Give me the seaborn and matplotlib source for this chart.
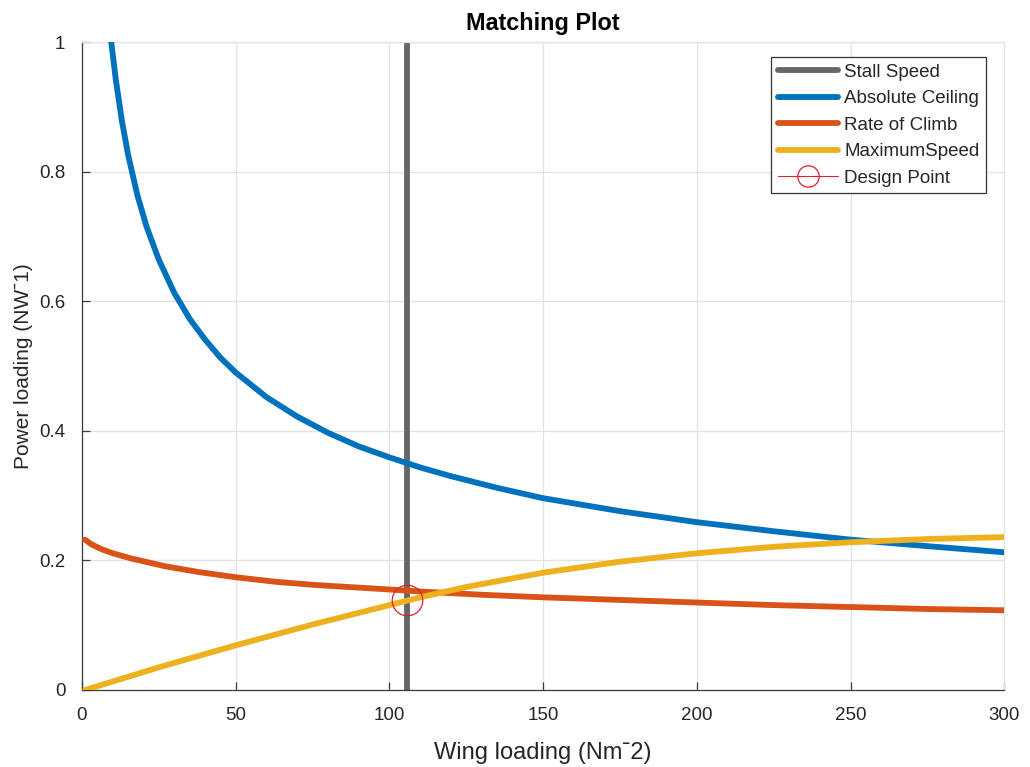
import numpy as np
import pandas as pd
import matplotlib
matplotlib.use("Agg")
import matplotlib.pyplot as plt
import seaborn as sns

# ---- data ----
stall_x = 105.6

ceiling_x = [9, 11, 13, 15, 18, 21, 25, 30, 35, 40, 45, 50, 60, 70, 80, 90, 100,
             110, 120, 135, 150, 175, 200, 225, 250, 275, 300]
ceiling_y = [1.02, 0.942, 0.878, 0.826, 0.764, 0.715, 0.664, 0.613, 0.573, 0.541,
             0.513, 0.490, 0.452, 0.422, 0.397, 0.376, 0.359, 0.3435, 0.330,
             0.312, 0.296, 0.276, 0.259, 0.245, 0.232, 0.222, 0.2125]

climb_x = [1, 3, 6.5, 10, 16, 27, 38, 50, 63, 76, 90, 102, 110, 130, 150, 175,
           200, 225, 250, 275, 300]
climb_y = [0.232, 0.225, 0.217, 0.211, 0.203, 0.191, 0.182, 0.174, 0.167, 0.162,
           0.158, 0.1545, 0.152, 0.147, 0.143, 0.139, 0.135, 0.131, 0.128, 0.125,
           0.123]

speed_x = [1, 25, 50, 75, 100, 110, 125, 150, 175, 200, 225, 250, 275, 300]
speed_y = [0.0, 0.035, 0.069, 0.101, 0.131, 0.143, 0.159, 0.181, 0.198, 0.211,
           0.221, 0.228, 0.233, 0.236]

design_x = [105.6]
design_y = [0.139]

x_ticks = [0, 50, 100, 150, 200, 250, 300]
y_ticks = [0, 0.2, 0.4, 0.6, 0.8, 1.0]
y_tick_labels = ["0", "0.2", "0.4", "0.6", "0.8", "1"]

# ---- styling ----
sns.set_theme(style="whitegrid")
plt.rcParams['font.family'] = ['Liberation Sans', 'DejaVu Sans']

C_STALL = "#666666"
C_BLUE = "#0072BD"
C_RED = "#D95319"
C_YEL = "#EDB120"
TXT = "#262626"

fig = plt.figure(figsize=(10.3, 7.67), dpi=100)
ax = fig.add_axes([0.0796, 0.1004, 0.8954, 0.8448])

df_c = pd.DataFrame({"x": ceiling_x, "y": ceiling_y})
df_r = pd.DataFrame({"x": climb_x, "y": climb_y})
df_s = pd.DataFrame({"x": speed_x, "y": speed_y})

ax.axvline(stall_x, color=C_STALL, lw=4.2, label="Stall Speed", zorder=2)
sns.lineplot(data=df_c, x="x", y="y", ax=ax, color=C_BLUE, lw=4.2,
             label="Absolute Ceiling", zorder=3)
sns.lineplot(data=df_r, x="x", y="y", ax=ax, color=C_RED, lw=4.2,
             label="Rate of Climb", zorder=3)
sns.lineplot(data=df_s, x="x", y="y", ax=ax, color=C_YEL, lw=4.2,
             label="MaximumSpeed", zorder=3)
ax.plot(design_x, design_y, marker="o", ms=22, mfc="none", mec="#E0202A",
        mew=0.9, color="#E0202A", lw=0.8, label="Design Point", zorder=4)

ax.set_xlim(0, 300)
ax.set_ylim(0, 1)
ax.set_xticks(x_ticks)
ax.set_yticks(y_ticks)
ax.set_yticklabels(y_tick_labels)

ax.grid(True, color="#E3E3E3", lw=0.9)
ax.set_facecolor("white")
for side in ["left", "bottom"]:
    ax.spines[side].set_color("#3A3A3A")
    ax.spines[side].set_linewidth(0.9)
for side in ["top", "right"]:
    ax.spines[side].set_color("#E3E3E3")
    ax.spines[side].set_linewidth(0.9)

ax.tick_params(axis="both", direction="in", length=6, width=0.9,
               color="#3A3A3A", labelsize=13.5, labelcolor=TXT, pad=12,
               left=True, bottom=True)

ax.set_xlabel("Wing loading (Nm\u02c92)", fontsize=17, color=TXT, labelpad=13)
ax.set_ylabel("Power loading (NW\u02c91)", fontsize=15, color=TXT, labelpad=4.5)
ax.set_title("Matching Plot", fontsize=16.8, fontweight="bold", color="black", pad=8.5)

leg = ax.legend(loc="upper right", bbox_to_anchor=(0.9805, 0.977), fontsize=13.5,
                frameon=True, fancybox=False, edgecolor="#333333",
                framealpha=1, handlelength=3.2, handletextpad=0.37,
                borderpad=0.35, labelspacing=0.5, markerscale=0.7,
                borderaxespad=0)
leg.get_frame().set_linewidth(0.9)

fig.savefig("out.png", dpi=100, facecolor="white")
